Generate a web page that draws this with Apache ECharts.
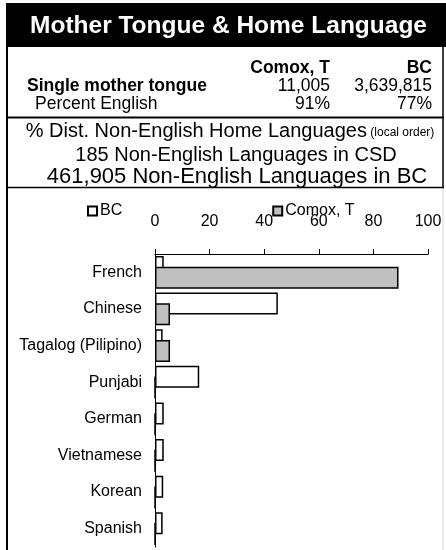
<!DOCTYPE html>
<html>
<head>
<meta charset="utf-8">
<script src="https://cdn.jsdelivr.net/npm/echarts@6/dist/echarts.min.js"></script>
<style>
html,body{margin:0;padding:0;background:#fff;}
#chart{width:446px;height:550px;}
</style>
</head>
<body>
<div id="chart"></div>
<script>
// ---- data ----
var titleText = 'Mother Tongue & Home Language';
var tableColumns = ['Comox, T', 'BC'];
var rowLabels = ['Single mother tongue', 'Percent English'];
var comoxTable = ['11,005', '91%'];
var bcTable = ['3,639,815', '77%'];
var subtitleMain = '% Dist. Non-English Home Languages';
var subtitleNote = '(local order)';
var infoLines = ['185 Non-English Languages in CSD', '461,905 Non-English Languages in BC'];

var categories = ['French', 'Chinese', 'Tagalog (Pilipino)', 'Punjabi', 'German', 'Vietnamese', 'Korean', 'Spanish'];
var seriesNames = ['BC', 'Comox, T'];
var bcValues = [3.2, 45.0, 2.8, 16.2, 3.2, 3.2, 3.0, 2.8];
var comoxValues = [89.2, 5.5, 5.5, 0, 0, 0, 0, 0];
var axisMin = 0, axisMax = 100, axisStep = 20;

// ---- chart ----
var FONT = '"Liberation Sans", Arial, sans-serif';
var chart = echarts.init(document.getElementById('chart'), null, {renderer: 'canvas'});

function txt(x, y, s, size, bold, align, fill) {
  return {
    type: 'text', x: x, y: y, silent: true,
    style: {
      text: s, fill: fill || '#000',
      font: (bold ? 'bold ' : '') + size + 'px ' + FONT,
      textAlign: align || 'left', textVerticalAlign: 'middle'
    }
  };
}
function line(x1, y1, x2, y2, w, c) {
  return {type: 'line', silent: true, shape: {x1: x1, y1: y1, x2: x2, y2: y2},
          style: {stroke: c || '#000', lineWidth: w}};
}

var graphics = [
  {type: 'rect', silent: true, shape: {x: 6, y: 3, width: 440, height: 44}, style: {fill: '#000'}},
  txt(228.5, 26, titleText, 24.5, true, 'center', '#fff'),
  line(7, 47, 7, 550, 2),
  line(443, 47, 443, 188, 1.5),
  line(443, 188, 443, 550, 1, '#d8d8d8'),
  line(6, 117.5, 444, 117.5, 2),
  line(6, 187.5, 444, 187.5, 1.5),
  txt(330, 68, tableColumns[0], 17.5, true, 'right'),
  txt(432, 68, tableColumns[1], 17.5, true, 'right'),
  txt(27, 86, rowLabels[0], 17.5, true, 'left'),
  txt(330, 86, comoxTable[0], 17.5, false, 'right'),
  txt(432, 86, bcTable[0], 17.5, false, 'right'),
  txt(35, 104, rowLabels[1], 17.5, false, 'left'),
  txt(330, 104, comoxTable[1], 17.5, false, 'right'),
  txt(432, 104, bcTable[1], 17.5, false, 'right'),
  {
    type: 'text', x: 230, y: 131, silent: true,
    style: {
      text: '{a|' + subtitleMain + '} {b|' + subtitleNote + '}',
      textAlign: 'center', textVerticalAlign: 'middle',
      rich: {
        a: {fontSize: 20, fontFamily: FONT, fill: '#000', color: '#000'},
        b: {fontSize: 12, fontFamily: FONT, fill: '#000', color: '#000', padding: [4, 0, 0, 0]}
      }
    }
  },
  txt(236, 155, infoLines[0], 20, false, 'center'),
  txt(237, 177, infoLines[1], 22, false, 'center')
];

var option = {
  animation: false,
  backgroundColor: '#fff',
  textStyle: {fontFamily: FONT, color: '#000'},
  graphic: graphics,
  legend: {
    data: seriesNames,
    left: 82, top: 198,
    itemWidth: 9, itemHeight: 9, itemGap: 150,
    icon: 'rect',
    textStyle: {fontSize: 16, color: '#000', fontFamily: FONT, padding: [0, 0, 0, -2]}
  },
  grid: {left: 155, right: 18, top: 254, bottom: 3, containLabel: false},
  xAxis: {
    type: 'value', position: 'top',
    min: axisMin, max: axisMax, interval: axisStep,
    axisLine: {show: true, lineStyle: {color: '#000', width: 1}},
    axisTick: {show: true, length: 5, inside: false, lineStyle: {color: '#000'}},
    splitLine: {show: false},
    axisLabel: {fontSize: 16, color: '#000', fontFamily: FONT, margin: 24}
  },
  yAxis: {
    type: 'category', inverse: true, data: categories,
    axisLine: {show: true, lineStyle: {color: '#000', width: 1}},
    axisTick: {show: false},
    axisLabel: {fontSize: 16, color: '#000', fontFamily: FONT, margin: 13}
  },
  series: [
    {
      name: seriesNames[0], type: 'bar', data: bcValues,
      barWidth: 22, barGap: '-51%',
      itemStyle: {color: '#ffffff', borderColor: '#000', borderWidth: 1.5},
      z: 2
    },
    {
      name: seriesNames[1], type: 'bar', data: comoxValues,
      barWidth: 22, barGap: '-51%',
      itemStyle: {color: '#c0c0c0', borderColor: '#000', borderWidth: 1.5},
      z: 3
    }
  ]
};
chart.setOption(option);
</script>
</body>
</html>
